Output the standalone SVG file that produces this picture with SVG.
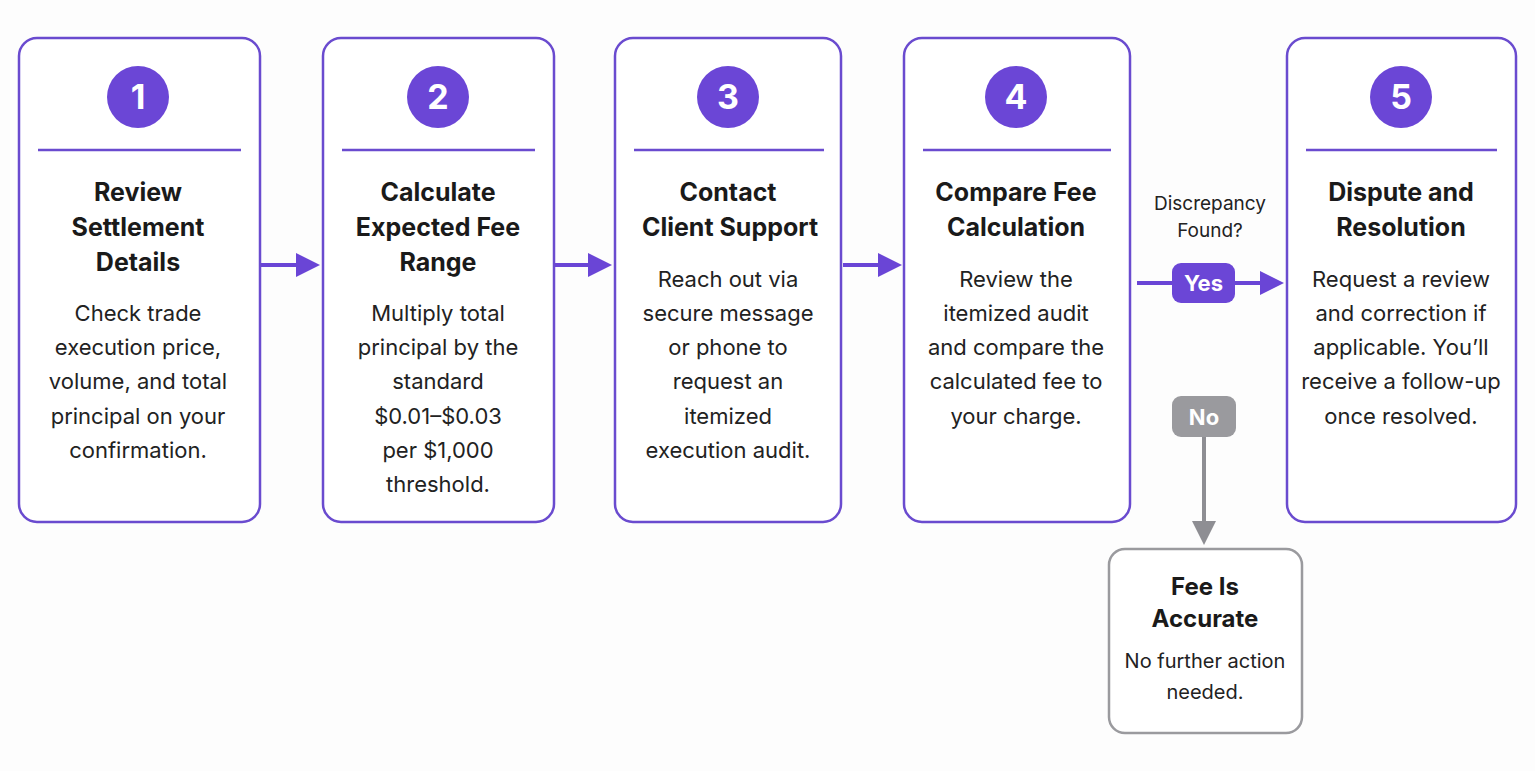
<svg xmlns="http://www.w3.org/2000/svg" width="1535" height="771" viewBox="0 0 1535 771">
<style>
.box{fill:#fff;stroke:#6a4bcf;stroke-width:2.5}
.circ{fill:#6b46d6}
.num{font:bold 34px "Inter","Liberation Sans",sans-serif;fill:#fff;text-anchor:middle}
.sep{stroke:#6a4bcf;stroke-width:2.5}
.t{font:bold 25px "Inter","Liberation Sans",sans-serif;fill:#1a1a1a;text-anchor:middle}
.b{font:22px "Inter","Liberation Sans",sans-serif;fill:#222;text-anchor:middle}
.c{stroke:#6a45d6;stroke-width:4;fill:none}
</style>
<defs>
<marker id="ap" markerWidth="6" markerHeight="6" refX="5" refY="3" orient="auto" markerUnits="strokeWidth"><path d="M0,0L6,3L0,6Z" fill="#6a45d6"/></marker>
<marker id="ag" markerWidth="6" markerHeight="6" refX="5" refY="3" orient="auto" markerUnits="strokeWidth"><path d="M0,0L6,3L0,6Z" fill="#8e8e93"/></marker>
</defs>
<rect width="1535" height="771" fill="#fdfdfd"/>
<g id="connectors">
<line class="c" x1="261" y1="265" x2="316" y2="265" marker-end="url(#ap)"/>
<line class="c" x1="555" y1="265" x2="608" y2="265" marker-end="url(#ap)"/>
<line class="c" x1="843" y1="265" x2="898" y2="265" marker-end="url(#ap)"/>
<line class="c" x1="1137" y1="283" x2="1280" y2="283" marker-end="url(#ap)"/>
<rect x="1172" y="263" width="63" height="40" rx="9" fill="#6b46d6"/>
<text x="1203.5" y="291" style="font:bold 22px 'Inter','Liberation Sans',sans-serif;fill:#fff;text-anchor:middle">Yes</text>
<line x1="1204" y1="437" x2="1204" y2="541" stroke="#8e8e93" stroke-width="4" marker-end="url(#ag)"/>
<rect x="1172" y="396" width="64" height="41" rx="9" fill="#9a9a9e"/>
<text x="1204" y="425" style="font:bold 22px 'Inter','Liberation Sans',sans-serif;fill:#fff;text-anchor:middle">No</text>
<text x="1210" y="210" style="font:19px 'Inter','Liberation Sans',sans-serif;fill:#222;text-anchor:middle">Discrepancy</text>
<text x="1210" y="237" style="font:19px 'Inter','Liberation Sans',sans-serif;fill:#222;text-anchor:middle">Found?</text>
</g>
<g id="n1">
<rect class="box" x="19" y="38" width="241" height="484" rx="18"/>
<circle class="circ" cx="138" cy="97" r="31"/><text class="num" x="138" y="109">1</text>
<line class="sep" x1="38" y1="150" x2="241" y2="150"/>
<text class="t" x="138" y="201">Review</text><text class="t" x="138" y="236">Settlement</text><text class="t" x="138" y="271">Details</text>
<text class="b" x="138" y="321">Check trade</text><text class="b" x="138" y="355">execution price,</text><text class="b" x="138" y="389">volume, and total</text><text class="b" x="138" y="424">principal on your</text><text class="b" x="138" y="458">confirmation.</text>
</g>
<g id="n2">
<rect class="box" x="323" y="38" width="231" height="484" rx="18"/>
<circle class="circ" cx="438" cy="97" r="31"/><text class="num" x="438" y="109">2</text>
<line class="sep" x1="342" y1="150" x2="535" y2="150"/>
<text class="t" x="438" y="201">Calculate</text><text class="t" x="438" y="236">Expected Fee</text><text class="t" x="438" y="271">Range</text>
<text class="b" x="438" y="321">Multiply total</text><text class="b" x="438" y="355">principal by the</text><text class="b" x="438" y="389">standard</text><text class="b" x="438" y="424">$0.01–$0.03</text><text class="b" x="438" y="458">per $1,000</text><text class="b" x="438" y="492">threshold.</text>
</g>
<g id="n3">
<rect class="box" x="615" y="38" width="226" height="484" rx="18"/>
<circle class="circ" cx="728" cy="97" r="31"/><text class="num" x="728" y="109">3</text>
<line class="sep" x1="634" y1="150" x2="824" y2="150"/>
<text class="t" x="728" y="201">Contact</text><text class="t" x="730" y="236">Client Support</text>
<text class="b" x="728" y="287">Reach out via</text><text class="b" x="728" y="321">secure message</text><text class="b" x="728" y="355">or phone to</text><text class="b" x="728" y="389">request an</text><text class="b" x="728" y="424">itemized</text><text class="b" x="728" y="458">execution audit.</text>
</g>
<g id="n4">
<rect class="box" x="904" y="38" width="226" height="484" rx="18"/>
<circle class="circ" cx="1016" cy="97" r="31"/><text class="num" x="1016" y="109">4</text>
<line class="sep" x1="923" y1="150" x2="1111" y2="150"/>
<text class="t" x="1016" y="201">Compare Fee</text><text class="t" x="1016" y="236">Calculation</text>
<text class="b" x="1016" y="287">Review the</text><text class="b" x="1016" y="321">itemized audit</text><text class="b" x="1016" y="355">and compare the</text><text class="b" x="1016" y="389">calculated fee to</text><text class="b" x="1016" y="424">your charge.</text>
</g>
<g id="n5">
<rect class="box" x="1287" y="38" width="229" height="484" rx="18"/>
<circle class="circ" cx="1401" cy="97" r="31"/><text class="num" x="1401" y="109">5</text>
<line class="sep" x1="1306" y1="150" x2="1497" y2="150"/>
<text class="t" x="1401" y="201">Dispute and</text><text class="t" x="1401" y="236">Resolution</text>
<text class="b" x="1401" y="287">Request a review</text><text class="b" x="1401" y="321">and correction if</text><text class="b" x="1401" y="355">applicable. You’ll</text><text class="b" x="1401" y="389">receive a follow-up</text><text class="b" x="1401" y="424">once resolved.</text>
</g>
<g id="n6">
<rect x="1109" y="549" width="193" height="184" rx="16" fill="#fff" stroke="#9a9a9e" stroke-width="2.5"/>
<text class="t" x="1205" y="595" style="font-size:24px">Fee Is</text><text class="t" x="1205" y="627" style="font-size:24px">Accurate</text>
<text class="b" x="1205" y="668" style="font-size:20px">No further action</text><text class="b" x="1205" y="699" style="font-size:20px">needed.</text>
</g>
</svg>
